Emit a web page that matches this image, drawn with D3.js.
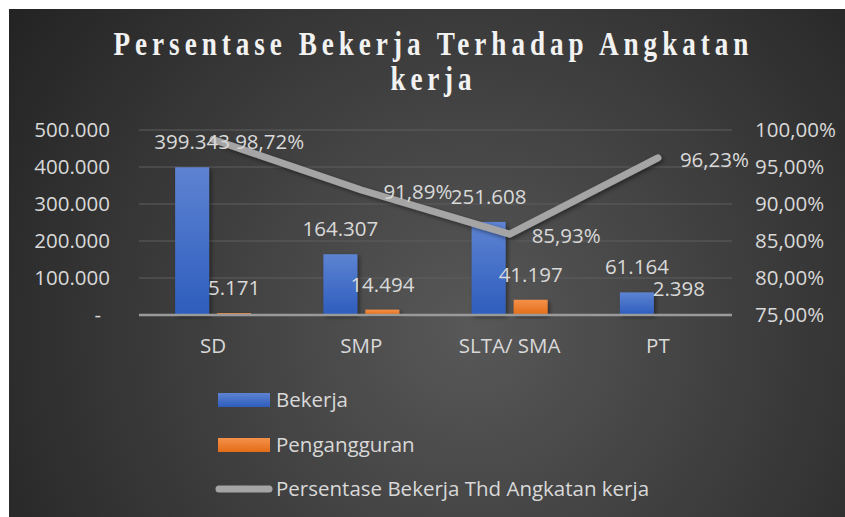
<!DOCTYPE html>
<html>
<head>
<meta charset="utf-8">
<script src="https://cdn.jsdelivr.net/npm/d3@7"></script>
<style>
  html, body { margin: 0; padding: 0; background: #fff; }
  svg { display: block; }
  text { font-family: "Open Sans", "Noto Sans", sans-serif; }
</style>
</head>
<body>
<div id="chart"></div>
<script>
// ---- data ----
var categories = ["SD", "SMP", "SLTA/ SMA", "PT"];
var bekerja = [399343, 164307, 251608, 61164];
var pengangguran = [5171, 14494, 41197, 2398];
var persen = [0.9872, 0.9189, 0.8593, 0.9623];
var leftTicks = [0, 100000, 200000, 300000, 400000, 500000];
var rightTicks = [0.75, 0.80, 0.85, 0.90, 0.95, 1.00];
var seriesNames = ["Bekerja", "Pengangguran", "Persentase Bekerja Thd Angkatan kerja"];
var titleLines = ["Persentase Bekerja Terhadap Angkatan", "kerja"];

(function () {
  "use strict";
  var W = 845, H = 517;
  var loc = d3.formatLocale({ decimal: ",", thousands: ".", grouping: [3], currency: ["", ""] });
  var fmtN = loc.format(",.0f"), fmtP = loc.format(".2%");

  var svg = d3.select("#chart").append("svg").attr("width", W).attr("height", H);
  var defs = svg.append("defs");

  // background: radial dark gradient, inset from a white border
  var bg = defs.append("radialGradient").attr("id", "bg").attr("gradientUnits", "userSpaceOnUse")
    .attr("cx", 470).attr("cy", 330).attr("r", 560);
  bg.append("stop").attr("offset", 0).attr("stop-color", "#585858");
  bg.append("stop").attr("offset", 1).attr("stop-color", "#232323");
  function vgrad(id, top, bot) {
    var g = defs.append("linearGradient").attr("id", id).attr("x1", 0).attr("y1", 0).attr("x2", 0).attr("y2", 1);
    g.append("stop").attr("offset", 0).attr("stop-color", top);
    g.append("stop").attr("offset", 1).attr("stop-color", bot);
  }
  vgrad("gBlue", "#5d83d2", "#2e5dbd");
  vgrad("gOrange", "#f4914a", "#e46c17");
  var sh = defs.append("filter").attr("id", "shadow").attr("x", "-20%").attr("y", "-20%").attr("width", "140%").attr("height", "140%");
  sh.append("feDropShadow").attr("dx", 2).attr("dy", 2).attr("stdDeviation", 2)
    .attr("flood-color", "#000").attr("flood-opacity", 0.45);

  svg.append("rect").attr("x", 9).attr("y", 9).attr("width", W - 9).attr("height", H - 9).attr("fill", "url(#bg)");

  // ---- title: tall, condensed serif with wide tracking ----
  var sx = 0.8;
  var tt = svg.append("g").attr("transform", "translate(431,0) scale(" + sx + ",1)")
    .attr("font-weight", 700).attr("font-size", 34).attr("fill", "#f2f2f2").attr("text-anchor", "middle");
  tt.append("text").style("font-family", "'Liberation Serif', serif").attr("x", 0).attr("y", 55)
    .attr("textLength", 635 / sx).attr("lengthAdjust", "spacing").text(titleLines[0]);
  tt.append("text").style("font-family", "'Liberation Serif', serif").attr("x", 0).attr("y", 90)
    .attr("textLength", 81 / sx).attr("lengthAdjust", "spacing").text(titleLines[1]);

  // ---- scales ----
  var left = 139, right = 732, top = 130, base = 315;
  var y = d3.scaleLinear().domain([0, 500000]).range([base, top]);
  var y2 = d3.scaleLinear().domain([0.75, 1.0]).range([base, top]);
  var x0 = d3.scaleBand().domain(categories).range([left, right]).padding(0);
  var bw = x0.bandwidth();
  var x1 = d3.scaleBand().domain(["b", "p"]).range([bw / 2 - 38, bw / 2 + 38]).paddingInner(8 / 42);

  var g = svg.append("g");

  // gridlines
  g.selectAll(".grid").data(leftTicks.slice(1)).enter().append("line")
    .attr("x1", left).attr("x2", right)
    .attr("y1", function (d) { return y(d); }).attr("y2", function (d) { return y(d); })
    .attr("stroke", "#5e5e5e").attr("stroke-width", 1);

  // left axis labels
  var lab = "#d9d9d9", fs = 20.5;
  g.selectAll(".ly").data(leftTicks).enter().append("text")
    .attr("x", function (d) { return d === 0 ? 101 : 110; })
    .attr("y", function (d) { return y(d); }).attr("dy", "0.35em")
    .attr("text-anchor", "end").attr("font-size", fs).attr("fill", lab)
    .text(function (d) { return d === 0 ? "-" : fmtN(d); });

  // right axis labels
  g.selectAll(".ry").data(rightTicks).enter().append("text")
    .attr("x", 755).attr("y", function (d) { return y2(d); }).attr("dy", "0.35em")
    .attr("font-size", fs).attr("fill", lab)
    .text(function (d) { return fmtP(d); });

  // category labels
  g.selectAll(".cx").data(categories).enter().append("text")
    .attr("x", function (d) { return x0(d) + bw / 2; }).attr("y", 353)
    .attr("text-anchor", "middle").attr("font-size", fs).attr("fill", lab)
    .text(function (d) { return d; });

  // bars
  var rows = categories.map(function (c, i) { return { c: c, b: bekerja[i], p: pengangguran[i], pct: persen[i] }; });
  var bars = [];
  rows.forEach(function (r) {
    bars.push({ c: r.c, k: "b", v: r.b });
    bars.push({ c: r.c, k: "p", v: r.p });
  });
  g.selectAll(".bar").data(bars).enter().append("rect")
    .attr("x", function (d) { return x0(d.c) + x1(d.k); })
    .attr("width", x1.bandwidth())
    .attr("y", function (d) { return y(d.v); })
    .attr("height", function (d) { return base - y(d.v); })
    .attr("fill", function (d) { return d.k === "b" ? "url(#gBlue)" : "url(#gOrange)"; })
    .attr("filter", "url(#shadow)");

  // category axis line
  g.append("line").attr("x1", left).attr("x2", right).attr("y1", base).attr("y2", base)
    .attr("stroke", "#9a9a9a").attr("stroke-width", 2.5);

  // percentage line on the secondary axis
  var line = d3.line().x(function (d) { return x0(d.c) + bw / 2; }).y(function (d) { return y2(d.pct); });
  g.append("path").datum(rows).attr("d", line).attr("fill", "none")
    .attr("stroke", "#a5a5a5").attr("stroke-width", 7).attr("stroke-linecap", "round")
    .attr("stroke-linejoin", "round").attr("filter", "url(#shadow)");

  // bar value labels
  g.selectAll(".bv").data(bars).enter().append("text")
    .attr("x", function (d) { return x0(d.c) + x1(d.k) + x1.bandwidth() / 2; })
    .attr("y", function (d) { return y(d.v) - 18; })
    .attr("text-anchor", "middle").attr("font-size", fs).attr("fill", lab)
    .text(function (d) { return fmtN(d.v); });

  // percentage labels, right of each point
  g.selectAll(".pv").data(rows).enter().append("text")
    .attr("x", function (d) { return x0(d.c) + bw / 2 + 22; })
    .attr("y", function (d) { return y2(d.pct) + 2; }).attr("dy", "0.35em")
    .attr("font-size", fs).attr("fill", lab)
    .text(function (d) { return fmtP(d.pct); });

  // ---- legend ----
  var lg = svg.append("g");
  var ly = [400, 445, 489];
  lg.append("rect").attr("x", 218).attr("y", ly[0] - 7).attr("width", 52).attr("height", 14).attr("fill", "url(#gBlue)");
  lg.append("rect").attr("x", 218).attr("y", ly[1] - 7).attr("width", 52).attr("height", 14).attr("fill", "url(#gOrange)");
  lg.append("line").attr("x1", 219).attr("x2", 269).attr("y1", ly[2]).attr("y2", ly[2])
    .attr("stroke", "#a5a5a5").attr("stroke-width", 7).attr("stroke-linecap", "round");
  lg.selectAll(".lt").data(seriesNames).enter().append("text")
    .attr("x", 276).attr("y", function (d, i) { return ly[i]; }).attr("dy", "0.35em")
    .attr("font-size", fs).attr("fill", lab)
    .text(function (d) { return d; });
})();
</script>
</body>
</html>
